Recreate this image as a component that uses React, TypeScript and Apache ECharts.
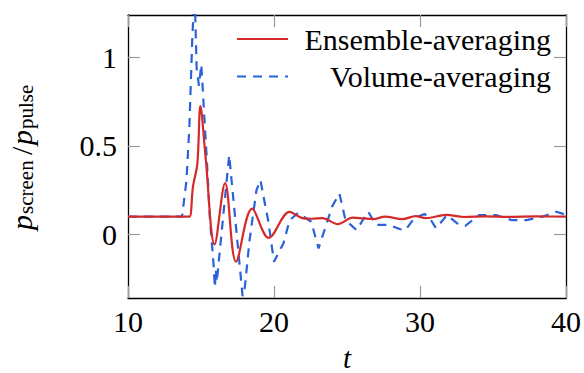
import React, { useEffect, useRef } from "react";
import * as echarts from "echarts";

// ---- data ----
const seriesNames = ["Ensemble-averaging", "Volume-averaging"];

const ensembleT = [10, 14.0, 14.22, 14.45, 14.75, 14.96, 15.3, 15.93, 16.65, 17.4, 18.5, 19.64, 21.07, 21.9, 22.6, 23.3, 24.37, 25.4, 26.1, 26.8, 27.6, 28.8, 29.7, 30.4, 31.8, 33, 34.5, 36, 38, 40];
const ensembleP = [0.1, 0.1, 0.1, 0.27, 0.4, 0.725, 0.45, -0.057, 0.29, -0.155, 0.145, -0.02, 0.127, 0.093, 0.088, 0.092, 0.058, 0.094, 0.09, 0.086, 0.1, 0.086, 0.103, 0.092, 0.11, 0.098, 0.102, 0.099, 0.101, 0.1];

const volumeT = [10, 13.7, 14.0, 14.2, 14.4, 14.56, 14.7, 14.86, 15.02, 15.12, 15.4, 15.6, 15.86, 15.95, 16.02, 16.08, 16.93, 17.85, 18.0, 18.33, 18.8, 19.07, 19.36, 19.6, 20.0, 20.65, 21.07, 21.64, 21.87, 22.55, 23.05, 23.6, 24.0, 24.48, 24.9, 25.65, 26.45, 27.0, 27.9, 28.6, 29.0, 29.6, 30.3, 30.6, 31.1, 31.85, 32.55, 33.1, 34.05, 35.2, 36.3, 37.3, 38.4, 39.35, 40];
const volumeP = [0.1, 0.1, 0.3, 0.6, 1.1, 1.38, 0.94, 0.84, 0.96, 0.82, 0.42, 0.1, -0.17, -0.3, -0.2, -0.27, 0.448, -0.35, -0.3, -0.03, 0.25, 0.307, 0.18, 0.08, -0.155, -0.05, 0.08, 0.12, 0.109, 0.071, -0.08, 0.06, 0.16, 0.23, 0.08, 0.024, 0.128, 0.053, 0.053, 0.03, 0.024, 0.09, 0.115, 0.1, 0.034, 0.109, 0.062, 0.048, 0.109, 0.109, 0.08, 0.08, 0.1, 0.128, 0.11];

const xTicks = [10, 20, 30, 40];
const yTicks = [0, 0.5, 1];

const FONT = "Liberation Serif";
const RED = "#d42a2a";
const BLUE = "#2a62d8";

export default function App() {
  const ref = useRef<HTMLDivElement>(null);

  useEffect(() => {
    const chart = echarts.init(ref.current!, null, { renderer: "svg" });

    const frameLine = { show: true, onZero: false, lineStyle: { color: "#000", width: 1.3 } };
    const tick = (vals: number[]) => ({
      show: true,
      inside: true,
      length: 12,
      customValues: vals,
      lineStyle: { color: "#9a9a9a", width: 1.2 },
    });

    const txt = (text: string, x: number, y: number, size: number, italic: boolean) => ({
      type: "text",
      x,
      y,
      style: {
        text,
        fontFamily: FONT,
        fontSize: size,
        fontStyle: italic ? "italic" : "normal",
        fill: "#000",
        align: "left",
        verticalAlign: "middle",
      },
    });

    const option: any = {
      animation: false,
      backgroundColor: "#fff",
      textStyle: { fontFamily: FONT },
      grid: { left: 128, right: 16, top: 15, bottom: 75, containLabel: false },
      xAxis: [
        {
          type: "value",
          position: "bottom",
          min: 10,
          max: 40,
          interval: 10,
          axisLine: frameLine,
          axisTick: tick(xTicks),
          axisLabel: {
            customValues: xTicks,
            fontFamily: FONT,
            fontSize: 30,
            color: "#000",
            margin: 8,
          },
          splitLine: { show: false },
        },
        {
          type: "value",
          position: "top",
          min: 10,
          max: 40,
          interval: 10,
          axisLine: frameLine,
          axisTick: tick(xTicks),
          axisLabel: { show: false },
          splitLine: { show: false },
        },
      ],
      yAxis: [
        {
          type: "value",
          position: "left",
          min: -0.36,
          max: 1.24,
          axisLine: frameLine,
          axisTick: tick(yTicks),
          axisLabel: {
            customValues: yTicks,
            formatter: (v: number) => String(v),
            fontFamily: FONT,
            fontSize: 30,
            color: "#000",
            margin: 11,
          },
          splitLine: { show: false },
        },
        {
          type: "value",
          position: "right",
          min: -0.36,
          max: 1.24,
          axisLine: frameLine,
          axisTick: tick(yTicks),
          axisLabel: { show: false },
          splitLine: { show: false },
        },
      ],
      legend: {
        orient: "vertical",
        right: 33,
        top: 24,
        padding: 0,
        itemGap: 7.6,
        itemWidth: 51,
        itemHeight: 14,
        itemStyle: { opacity: 0 },
        data: seriesNames,
        formatter: (name: string) => `{a|${name}}`,
        textStyle: {
          color: "#000",
          fontFamily: FONT,
          fontSize: 30,
          rich: {
            a: { width: 258, align: "right", fontFamily: FONT, fontSize: 30, lineHeight: 30, color: "#000" },
          },
        },
      },
      series: [
        {
          name: seriesNames[0],
          type: "line",
          data: ensembleT.map((t, i) => [t, ensembleP[i]]),
          smooth: 0.35,
          symbol: "none",
          clip: true,
          z: 3,
          lineStyle: { color: RED, width: 2.2 },
          itemStyle: { color: RED },
        },
        {
          name: seriesNames[1],
          type: "line",
          data: volumeT.map((t, i) => [t, volumeP[i]]),
          symbol: "none",
          clip: true,
          z: 2,
          lineStyle: { color: BLUE, width: 2.2, type: [9, 7] },
          itemStyle: { color: BLUE },
        },
      ],
      graphic: [
        {
          type: "group",
          x: 0,
          y: 152,
          rotation: Math.PI / 2,
          children: [
            txt("p", -78, 21, 30, true),
            txt("screen", -62, 26, 21, false),
            txt("/", -3, 21, 30, false),
            txt("p", 7, 21, 30, true),
            txt("pulse", 23, 26, 21, false),
          ],
        },
        {
          type: "text",
          x: 347,
          y: 358,
          style: {
            text: "t",
            fontFamily: FONT,
            fontSize: 29,
            fontStyle: "italic",
            lineHeight: 22,
            fill: "#000",
            align: "center",
            verticalAlign: "middle",
          },
        },
      ],
    };

    chart.setOption(option);
    return () => chart.dispose();
  }, []);

  return (
    <div
      ref={ref}
      style={{ position: "absolute", left: 0, top: 0, width: 584, height: 373 }}
    />
  );
}
